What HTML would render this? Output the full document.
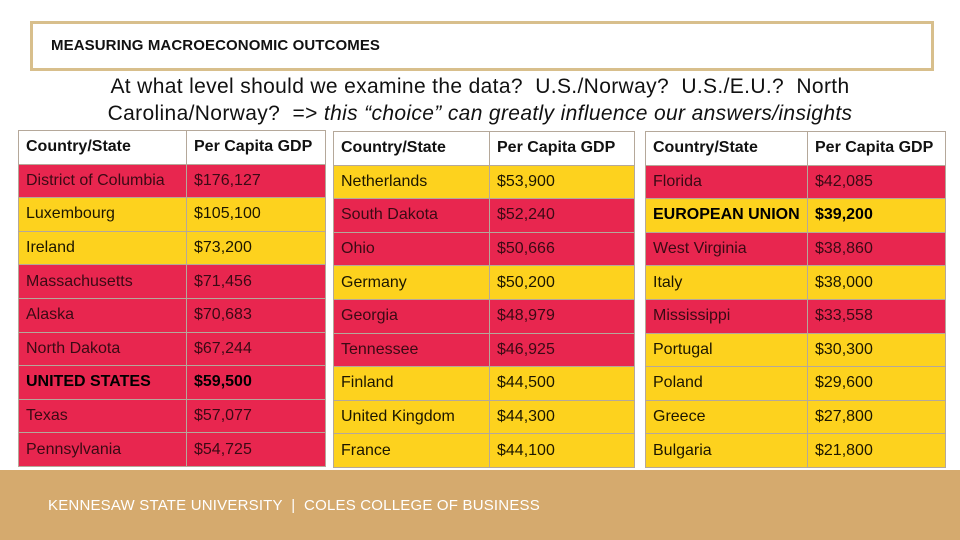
<!DOCTYPE html>
<html><head><meta charset="utf-8"><style>
body{margin:0;width:960px;height:540px;position:relative;background:#fff;font-family:"Liberation Sans",sans-serif;overflow:hidden}
.title{position:absolute;left:30px;top:21px;width:898px;height:44px;border:3px solid #d8bf8c;}
.title span{position:absolute;left:18px;top:13px;font-size:15px;font-weight:bold;color:#111;letter-spacing:0.1px}
.sub{position:absolute;left:0;top:73px;width:960px;text-align:center;font-size:21px;line-height:27px;color:#111;letter-spacing:0.35px}
table{position:absolute;border-collapse:collapse;font-size:16px;color:#222;table-layout:fixed}
td{border:1px solid #b5a89a;height:33.6px;padding:0 0 0 7px;box-sizing:border-box;white-space:nowrap;overflow:hidden}
tr.h td{background:#fff;font-weight:bold;color:#111}
.r td{background:#e8264f;color:#3a0a14}
.y td{background:#fdd21e;color:#1c1600}
td.b{font-weight:bold;color:#000}
.foot{position:absolute;left:0;top:470px;width:960px;height:70px;background:#d5aa6e}
.foot span{position:absolute;left:48px;top:27px;color:#fff;font-size:15px;letter-spacing:0.2px}
</style></head><body>
<div class="title"><span>MEASURING MACROECONOMIC OUTCOMES</span></div>
<div class="sub">At what level should we examine the data?&nbsp; U.S./Norway?&nbsp; U.S./E.U.? &nbsp;North<br>Carolina/Norway? &nbsp;=&gt; <i>this “choice” can greatly influence our answers/insights</i></div>
<div id="tables"></div>
<div class="foot"><span>KENNESAW STATE UNIVERSITY &nbsp;|&nbsp; COLES COLLEGE OF BUSINESS</span></div>
<script>
const t1Names=["District of Columbia","Luxembourg","Ireland","Massachusetts","Alaska","North Dakota","UNITED STATES","Texas","Pennsylvania"];
const t1Values=["$176,127","$105,100","$73,200","$71,456","$70,683","$67,244","$59,500","$57,077","$54,725"];
const t1Colors=["r","y","y","r","r","r","r","r","r"];
const t2Names=["Netherlands","South Dakota","Ohio","Germany","Georgia","Tennessee","Finland","United Kingdom","France"];
const t2Values=["$53,900","$52,240","$50,666","$50,200","$48,979","$46,925","$44,500","$44,300","$44,100"];
const t2Colors=["y","r","r","y","r","r","y","y","y"];
const t3Names=["Florida","EUROPEAN UNION","West Virginia","Italy","Mississippi","Portugal","Poland","Greece","Bulgaria"];
const t3Values=["$42,085","$39,200","$38,860","$38,000","$33,558","$30,300","$29,600","$27,800","$21,800"];
const t3Colors=["r","y","r","y","r","y","y","y","y"];
const specs=[[t1Names,t1Values,t1Colors,18,130,168,139],[t2Names,t2Values,t2Colors,333,131,156,145],[t3Names,t3Values,t3Colors,645,131,162,138]];
const host=document.getElementById('tables');
specs.forEach((s,i)=>{
  const tb=document.createElement('table');
  
  
  tb.style.left=s[3]+'px';tb.style.top=s[4]+'px';tb.style.width=(s[5]+s[6])+'px';
  let h='<tr class="h"><td style="width:'+s[5]+'px">Country/State</td><td style="width:'+s[6]+'px">Per Capita GDP</td></tr>';
  s[0].forEach((n,j)=>{
    const caps=n===n.toUpperCase();
    h+='<tr class="'+s[2][j]+'"><td'+(caps?' class="b"':'')+'>'+n+'</td><td'+(caps?' class="b"':'')+'>'+s[1][j]+'</td></tr>';
  });
  tb.innerHTML=h;
  host.appendChild(tb);
});
</script>
</body></html>
